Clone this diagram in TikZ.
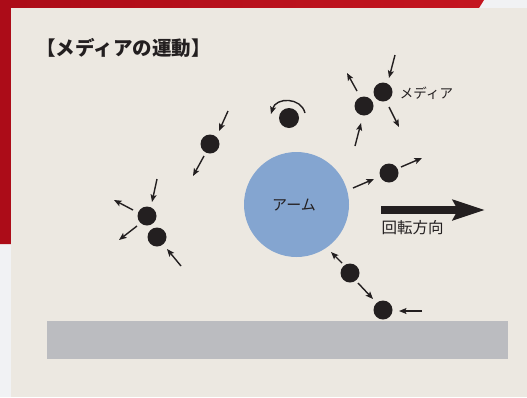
\documentclass[tikz,border=0pt]{standalone}
\usepackage{fontspec}
\newfontfamily\jp{Noto Sans CJK JP}
\usetikzlibrary{arrows.meta}
\definecolor{pagebg}{HTML}{F1F2F4}
\definecolor{panel}{HTML}{ECE8E1}
\definecolor{redL}{HTML}{AC0C18}
\definecolor{redR}{HTML}{C4151F}
\definecolor{ink}{HTML}{231F20}
\definecolor{arm}{HTML}{84A5D0}
\definecolor{floor}{HTML}{BBBCC0}
\tikzset{
  ball/.style={circle, fill=ink, minimum size=19pt, inner sep=0pt},
  mv/.style={draw=ink, line width=1.4pt, -{Stealth[length=7.5pt,width=6pt,inset=1.5pt]}},
  lbl/.style={inner sep=0pt, text=ink, font=\jp\fontsize{14}{16}\selectfont},
}
\begin{document}
\begin{tikzpicture}[x=1pt,y=-1pt]
\useasboundingbox (0,0) rectangle (527,397);
\fill[pagebg] (0,0) rectangle (527,397);
\shade[left color=redL, right color=redR] (0,0) -- (484,0) -- (479,8) -- (11,8) -- (11,244) -- (0,244) -- cycle;
\fill[panel] (11,8) rectangle (527,397);
\fill[floor] (47,321) rectangle (508,359);
\node[circle, fill=arm, minimum size=105pt, inner sep=0pt] (arm) at (296.5,204.5) {};
\node[lbl, font=\jp\fontsize{15}{17}\selectfont] (armtext) at (294,205) {アーム};
\node[lbl, font=\jp\bfseries\fontsize{19.5}{22}\selectfont] (title) at (123.5,47.5) {【メディアの運動】};
% balls
\node[ball, minimum size=20pt] (A) at (289,118) {};
\node[ball] (B) at (210,144) {};
\node[ball] (C) at (147,216) {};
\node[ball] (D) at (157,237) {};
\node[ball] (E) at (383,92) {};
\node[ball] (F) at (364,106) {};
\node[ball] (G) at (389,173) {};
\node[ball] (H) at (350,273) {};
\node[ball] (I) at (383,310) {};
\node[lbl, font=\jp\fontsize{13.5}{15}\selectfont] (medlabel) at (426.5,93) {メディア};
% motion arrows
\draw[mv] (305,113) .. controls (301,97) and (276,97) .. (271,114);
\draw[mv] (228,111) -- (219,131);
\draw[mv] (204,156) -- (193,176);
\draw[mv] (157,179) -- (152,202);
\draw[mv] (133,210) -- (114,200);
\draw[mv] (137,226) -- (119,240);
\draw[mv] (181,266) -- (167,249);
\draw[mv] (395,55) -- (389,78);
\draw[mv] (389,107) -- (399,127);
\draw[mv] (357,91) -- (347,73);
\draw[mv] (355,146) -- (361,123);
\draw[mv] (353,188) -- (374,179);
\draw[mv] (401,167) -- (422,158);
\draw[mv] (342,263) -- (331,252);
\draw[mv] (358,283) -- (373,299);
\draw[mv] (422,311) -- (399,311);
% rotation direction
\coordinate (rs) at (381,210);
\coordinate (re) at (485,210);
\draw[ink, line width=8pt, -{Stealth[length=32pt,width=20pt,inset=5pt]}] (rs) -- (re);
\node[lbl, font=\jp\fontsize{15.5}{17}\selectfont] (rottext) at (412.5,228) {回転方向};
\end{tikzpicture}
\end{document}
